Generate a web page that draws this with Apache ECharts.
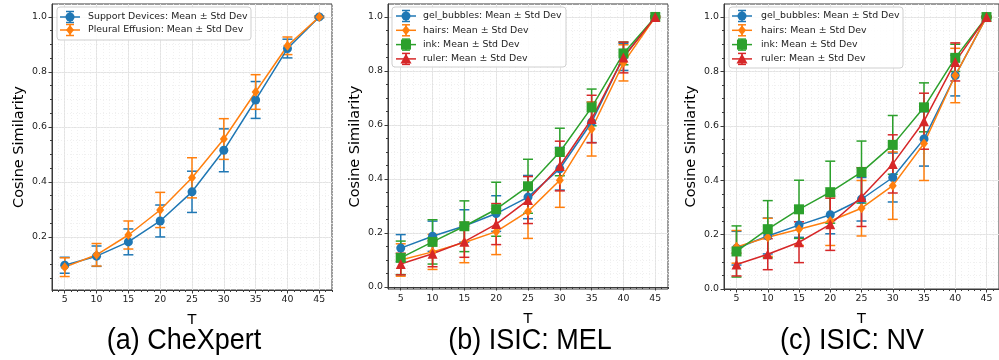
<!DOCTYPE html>
<html><head><meta charset="utf-8">
<script src="https://cdn.jsdelivr.net/npm/echarts@6/dist/echarts.min.js"></script>
<style>html,body{margin:0;padding:0;background:#fff}#c{width:999px;height:360px}</style>
</head><body><div id="c"></div>
<script>
// ---------- data ----------
const T = [5, 10, 15, 20, 25, 30, 35, 40, 45];
const xTickLabels = [5, 10, 15, 20, 25, 30, 35, 40, 45];
const yTickLabelsA = [0.2, 0.4, 0.6, 0.8, 1.0];
const yTickLabelsBC = [0.0, 0.2, 0.4, 0.6, 0.8, 1.0];
const panelTitles = ['(a) CheXpert', '(b) ISIC: MEL', '(c) ISIC: NV'];

// (a) CheXpert
const cheSupportMean = [0.097, 0.130, 0.182, 0.258, 0.364, 0.515, 0.698, 0.885, 1.000];
const cheSupportStd  = [0.029, 0.037, 0.047, 0.058, 0.075, 0.078, 0.067, 0.034, 0.003];
const chePleuralMean = [0.090, 0.135, 0.207, 0.298, 0.415, 0.556, 0.727, 0.895, 1.000];
const chePleuralStd  = [0.034, 0.041, 0.051, 0.064, 0.073, 0.074, 0.063, 0.032, 0.003];

// (b) ISIC: MEL
const melGelMean   = [0.144, 0.188, 0.226, 0.272, 0.333, 0.438, 0.610, 0.852, 1.000];
const melGelStd    = [0.050, 0.056, 0.060, 0.066, 0.080, 0.079, 0.075, 0.050, 0.003];
const melHairsMean = [0.100, 0.130, 0.165, 0.205, 0.280, 0.395, 0.585, 0.830, 1.000];
const melHairsStd  = [0.060, 0.065, 0.075, 0.085, 0.100, 0.100, 0.100, 0.067, 0.003];
const melInkMean   = [0.108, 0.167, 0.225, 0.288, 0.373, 0.500, 0.665, 0.865, 1.000];
const melInkStd    = [0.062, 0.082, 0.094, 0.100, 0.100, 0.088, 0.068, 0.042, 0.003];
const melRulerMean = [0.085, 0.123, 0.168, 0.233, 0.322, 0.448, 0.622, 0.850, 1.000];
const melRulerStd  = [0.040, 0.048, 0.058, 0.076, 0.087, 0.092, 0.088, 0.057, 0.003];

// (c) ISIC: NV
const nvGelMean   = [0.150, 0.195, 0.235, 0.273, 0.330, 0.410, 0.552, 0.785, 1.000];
const nvGelStd    = [0.062, 0.066, 0.045, 0.070, 0.080, 0.090, 0.100, 0.075, 0.003];
const nvHairsMean = [0.155, 0.190, 0.220, 0.250, 0.297, 0.380, 0.535, 0.785, 1.000];
const nvHairsStd  = [0.060, 0.070, 0.060, 0.090, 0.102, 0.124, 0.136, 0.100, 0.003];
const nvInkMean   = [0.138, 0.220, 0.293, 0.356, 0.430, 0.530, 0.668, 0.850, 1.000];
const nvInkStd    = [0.094, 0.105, 0.107, 0.114, 0.114, 0.108, 0.090, 0.050, 0.003];
const nvRulerMean = [0.090, 0.128, 0.172, 0.238, 0.338, 0.460, 0.617, 0.835, 1.000];
const nvRulerStd  = [0.042, 0.057, 0.075, 0.096, 0.108, 0.107, 0.103, 0.070, 0.003];

// ---------- styling / layout ----------
const BLUE = '#1f77b4', ORANGE = '#ff7f0e', GREEN = '#2ca02c', RED = '#d62728';
const FONT = 'DejaVu Sans';
const AXIS_COLOR = '#3a3a3a';

const panels = [
  { grid: {left: 52, top: 4, width: 280, height: 286}, yMin: 0.007, yMax: 1.047, yTicks: yTickLabelsA,
    title: panelTitles[0], titleX: 184, yNameGap: 25,
    legend: {x: 57, y: 7, w: 194, h: 33, firstY: 17, rowH: 13, textX: 88, iconX: 70},
    series: [
      {name: 'Support Devices: Mean \u00b1 Std Dev', mean: cheSupportMean, std: cheSupportStd, color: BLUE, marker: 'circle'},
      {name: 'Pleural Effusion: Mean \u00b1 Std Dev', mean: chePleuralMean, std: chePleuralStd, color: ORANGE, marker: 'diamond'}
    ]},
  { grid: {left: 388, top: 4, width: 280, height: 285}, yMin: -0.0074, yMax: 1.048, yTicks: yTickLabelsBC,
    title: panelTitles[1], titleX: 530, yNameGap: 25,
    legend: {x: 392, y: 7, w: 174, h: 60, firstY: 16, rowH: 14.3, textX: 423, iconX: 406},
    series: [
      {name: 'gel_bubbles: Mean \u00b1 Std Dev', mean: melGelMean, std: melGelStd, color: BLUE, marker: 'circle'},
      {name: 'hairs: Mean \u00b1 Std Dev', mean: melHairsMean, std: melHairsStd, color: ORANGE, marker: 'diamond'},
      {name: 'ink: Mean \u00b1 Std Dev', mean: melInkMean, std: melInkStd, color: GREEN, marker: 'square'},
      {name: 'ruler: Mean \u00b1 Std Dev', mean: melRulerMean, std: melRulerStd, color: RED, marker: 'triangle'}
    ]},
  { grid: {left: 724, top: 4, width: 281, height: 285}, yMin: 0.0, yMax: 1.048, yTicks: yTickLabelsBC,
    title: panelTitles[2], titleX: 852, yNameGap: 25,
    legend: {x: 729, y: 7, w: 174, h: 61, firstY: 16, rowH: 14.3, textX: 761, iconX: 742},
    series: [
      {name: 'gel_bubbles: Mean \u00b1 Std Dev', mean: nvGelMean, std: nvGelStd, color: BLUE, marker: 'circle'},
      {name: 'hairs: Mean \u00b1 Std Dev', mean: nvHairsMean, std: nvHairsStd, color: ORANGE, marker: 'diamond'},
      {name: 'ink: Mean \u00b1 Std Dev', mean: nvInkMean, std: nvInkStd, color: GREEN, marker: 'square'},
      {name: 'ruler: Mean \u00b1 Std Dev', mean: nvRulerMean, std: nvRulerStd, color: RED, marker: 'triangle'}
    ]}
];

const symbolMap = {circle: 'circle', diamond: 'diamond', square: 'rect', triangle: 'triangle'};
const symbolSizeMap = {circle: 9, diamond: [8, 10], square: 10, triangle: 10};

function range(a, b, step) { const r = []; for (let v = a; v <= b + 1e-9; v += step) r.push(+v.toFixed(4)); return r; }

const grids = [], xAxes = [], yAxes = [], series = [], graphics = [];

function markerGraphic(type, cx, cy, color) {
  const st = {fill: color};
  if (type === 'circle') return {type: 'circle', shape: {cx, cy, r: 4.5}, style: st, z: 101};
  if (type === 'square') return {type: 'rect', shape: {x: cx - 5, y: cy - 5, width: 10, height: 10}, style: st, z: 101};
  if (type === 'diamond') return {type: 'polygon', shape: {points: [[cx, cy - 5], [cx + 4, cy], [cx, cy + 5], [cx - 4, cy]]}, style: st, z: 101};
  return {type: 'polygon', shape: {points: [[cx, cy - 5.5], [cx + 5.5, cy + 4.5], [cx - 5.5, cy + 4.5]]}, style: st, z: 101};
}

function errRender(color) {
  return function (params, api) {
    const x = api.value(0), m = api.value(1), s = api.value(2);
    const p1 = api.coord([x, m + s]), p2 = api.coord([x, m - s]);
    const cap = 5;
    const style = {stroke: color, lineWidth: 1.5, fill: null};
    return {type: 'group', children: [
      {type: 'line', shape: {x1: p1[0], y1: p1[1], x2: p2[0], y2: p2[1]}, style},
      {type: 'line', shape: {x1: p1[0] - cap, y1: p1[1], x2: p1[0] + cap, y2: p1[1]}, style},
      {type: 'line', shape: {x1: p2[0] - cap, y1: p2[1], x2: p2[0] + cap, y2: p2[1]}, style}
    ]};
  };
}

panels.forEach((p, pi) => {
  grids.push(Object.assign({show: true, borderColor: AXIS_COLOR, borderWidth: 1, backgroundColor: '#fff'}, p.grid));
  const xMajor = xAxes.length;
  xAxes.push({type: 'value', gridIndex: pi, min: 3, max: 47, position: 'bottom',
    name: 'T', nameLocation: 'middle', nameGap: 23, nameTextStyle: {fontFamily: FONT, fontSize: 14.5, color: '#000'},
    axisLine: {show: true, lineStyle: {color: AXIS_COLOR, width: 1}},
    axisTick: {show: true, length: 3.5, customValues: xTickLabels, lineStyle: {color: AXIS_COLOR}},
    axisLabel: {customValues: xTickLabels, fontFamily: FONT, fontSize: 9.4, color: '#222', margin: 5},
    splitLine: {show: true, lineStyle: {color: '#e3e3e3', width: 1}}});
  xAxes.push({type: 'value', gridIndex: pi, min: 3, max: 47, position: 'bottom',
    axisLine: {show: false}, axisLabel: {show: false},
    axisTick: {show: true, length: 2, customValues: range(3, 47, 1), lineStyle: {color: AXIS_COLOR}},
    splitLine: {show: true, lineStyle: {color: '#ececec', width: 0.8, type: [1, 2]}}});
  const yMajor = yAxes.length;
  yAxes.push({type: 'value', gridIndex: pi, min: p.yMin, max: p.yMax, position: 'left',
    name: 'Cosine Similarity', nameLocation: 'middle', nameGap: p.yNameGap, nameRotate: 90,
    nameTextStyle: {fontFamily: FONT, fontSize: 14.5, color: '#000'},
    axisLine: {show: true, lineStyle: {color: AXIS_COLOR, width: 1}},
    axisTick: {show: true, length: 3.5, customValues: p.yTicks, lineStyle: {color: AXIS_COLOR}},
    axisLabel: {customValues: p.yTicks, fontFamily: FONT, fontSize: 9.4, color: '#222', margin: 5,
      formatter: v => v.toFixed(1)},
    splitLine: {show: true, lineStyle: {color: '#e3e3e3', width: 1}}});
  const yMinorVals = range(0, 1.05, 0.05).filter(v => v >= p.yMin && v <= p.yMax);
  yAxes.push({type: 'value', gridIndex: pi, min: p.yMin, max: p.yMax, position: 'left',
    axisLine: {show: false}, axisLabel: {show: false},
    axisTick: {show: true, length: 2, customValues: yMinorVals, lineStyle: {color: AXIS_COLOR}},
    splitLine: {show: true, lineStyle: {color: '#ececec', width: 0.8, type: [1, 2]}}});

  p.series.forEach((s) => {
    series.push({type: 'custom', xAxisIndex: xMajor, yAxisIndex: yMajor, renderItem: errRender(s.color),
      encode: {x: 0, y: 1}, data: T.map((t, i) => [t, s.mean[i], s.std[i]]), silent: true, clip: false});
    series.push({type: 'line', name: s.name, xAxisIndex: xMajor, yAxisIndex: yMajor,
      data: T.map((t, i) => [t, s.mean[i]]), symbol: symbolMap[s.marker], symbolSize: symbolSizeMap[s.marker],
      showSymbol: true, lineStyle: {color: s.color, width: 1.5}, itemStyle: {color: s.color, borderWidth: 0},
      emphasis: {disabled: true}, silent: true});
  });

  const L = p.legend;
  graphics.push({type: 'rect', shape: {x: L.x, y: L.y, width: L.w, height: L.h, r: 3},
    style: {fill: 'rgba(255,255,255,0.85)', stroke: '#cfcfcf', lineWidth: 1}, z: 100});
  p.series.forEach((s, k) => {
    const cy = L.firstY + k * L.rowH;
    const cx = L.iconX;
    const ls = {stroke: s.color, lineWidth: 1.5};
    graphics.push({type: 'line', shape: {x1: cx - 10, y1: cy, x2: cx + 10, y2: cy}, style: ls, z: 101});
    graphics.push({type: 'line', shape: {x1: cx, y1: cy - 5.5, x2: cx, y2: cy + 5.5}, style: ls, z: 101});
    graphics.push({type: 'line', shape: {x1: cx - 4, y1: cy - 5.5, x2: cx + 4, y2: cy - 5.5}, style: ls, z: 101});
    graphics.push({type: 'line', shape: {x1: cx - 4, y1: cy + 5.5, x2: cx + 4, y2: cy + 5.5}, style: ls, z: 101});
    graphics.push(markerGraphic(s.marker, cx, cy, s.color));
    graphics.push({type: 'text', x: L.textX, y: cy, z: 101,
      style: {text: s.name, fontFamily: FONT, fontSize: 9.4, fill: '#222', verticalAlign: 'middle', align: 'left'}});
  });
  graphics.push({type: 'text', x: p.titleX, y: 341, scaleY: 1.12, z: 101,
    style: {text: p.title, fontFamily: 'Liberation Sans', fontSize: 27, fill: '#000', align: 'center', verticalAlign: 'middle'}});
});

const chart = echarts.init(document.getElementById('c'), null, {renderer: 'canvas'});
chart.setOption({animation: false, backgroundColor: '#fff', grid: grids, xAxis: xAxes, yAxis: yAxes, series, graphic: graphics});
</script>
</body></html>
